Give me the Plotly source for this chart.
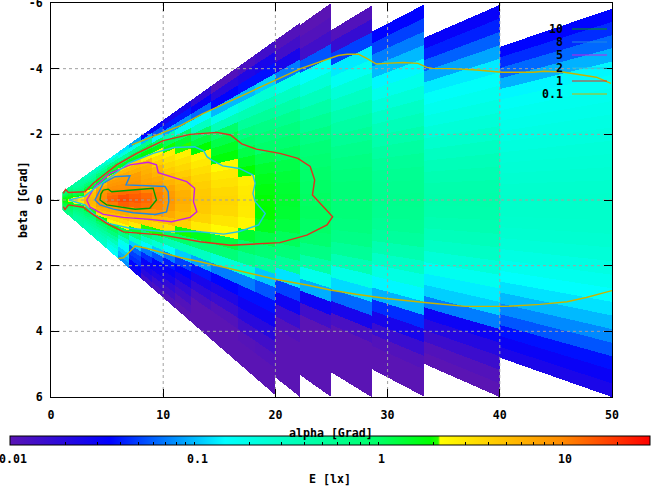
import numpy as np
import plotly.graph_objects as go

# Column edges of the measured field (alpha, Grad) and edge-ray slopes beta/alpha of each column
alpha_edges = [1, 1.5, 2, 3, 4, 5, 6, 7, 8, 9, 10, 11.1, 12.5, 14.3, 16.7, 18.2, 20, 22.2, 25, 28.6, 33.3, 40, 50]
ray_top = [.243]*17 + [.24, .207, .179, .1485, .1165]
ray_bottom = [.297]*16 + [.27, .24, .21, .18, .15, .12]

# log10(E) per ray band in each column, from the top edge to the bottom edge
c00 = [-.2,-.18,-.15,-.12,-.08,-.04,0,.04,.08,.12,.16,.2,.24,.28,.3, .28,.24,.2,.16,.12,.08,.04,0,-.04,-.08,-.12,-.15,-.18,-.2]
c01 = [-.25,-.22,-.2,-.15,-.1,-.05,.02,.05,.1,.15,.2,.25,.3,.4,.42, .4,.3,.22,.16,.1,.04,.01,-.03,-.06,-.1,-.14,-.18,-.22,-.25]
c02 = [-.35,-.32,-.3,-.28,-.25,-.2,-.15,-.08,-.02,.05,.12,.22,.34,.45,.5, .45,.34,.12,.02,-.05,-.1,-.15,-.2,-.24,-.28,-.3,-.32,-.34,-.36]
c03 = [-.5,-.45,-.35,-.3,-.22,-.1,-.02,.1,.22,.35,.62,.7,.72,.74,.75, .74,.72,.68,.32,.15,-.02,-.1,-.18,-.25,-.3,-.35,-.4,-.42,-.45]
c04 = [-.6,-.45,-.3,-.12,0,.12,.22,.3,.72,.82,.9,.93,.96,.98,.98, .95,.88,.8,.72,.5,.25,.1,-.05,-.2,-.3,-.38,-.45,-.5,-.55]
c05 = [-.75,-.5,-.2,.05,.15,.28,.68,.82,.9,.93,.97,1.0,1.08,1.12,1.14, 1.05,.92,.82,.72,.58,.38,.22,.02,-.12,-.3,-.45,-.6,-.72,-.8]
c06 = [-.9,-.65,-.3,0,.2,.55,.72,.82,.9,.92,.96,.98,1.1,1.2,1.22, 1.15,.95,.83,.7,.55,.35,.1,-.15,-.5,-.75,-.85,-.95,-1.02,-1.1]
c07 = [-1.05,-.7,-.2,.03,.2,.6,.72,.78,.88,.9,.93,.97,1.1,1.15,1.17, 1.12,.98,.78,.62,.45,.15,-.15,-.55,-.95,-1.2,-1.3,-1.35,-1.45,-1.55]
c08 = [-1.45,-1.0,-.2,.1,.27,.42,.7,.75,.78,.82,.85,.9,1.02,1.1,1.12, 1.08,.92,.78,.6,.32,-.1,-.5,-.85,-1.15,-1.35,-1.5,-1.6,-1.7,-1.85]
c09 = [-1.5,-1.25,-.85,0,.22,.36,.5,.6,.72,.76,.82,.87,1.0,1.03,1.03, 1.0,.92,.72,.55,.3,-.25,-.6,-.97,-1.25,-1.45,-1.55,-1.65,-1.8,-1.9]
c10 = [-1.6,-1.4,-1.05,-.4,.05,.3,.42,.5,.56,.62,.7,.77,.85,.9,.92, .9,.82,.7,.5,.02,-.4,-.8,-1.15,-1.4,-1.5,-1.6,-1.75,-1.85,-1.95]
c11 = [-1.6,-1.4,-1.1,-.75,-.03,.15,.32,.42,.5,.56,.62,.7,.74,.78,.8, .77,.72,.6,.3,-.02,-.45,-.95,-1.3,-1.45,-1.6,-1.75,-1.85,-1.95,-2]
c12 = [-1.75,-1.5,-1.2,-.85,-.5,-.02,.1,.28,.4,.46,.52,.57,.61,.64,.65, .64,.58,.45,.2,-.1,-.5,-1.05,-1.4,-1.6,-1.75,-1.9,-2,-2,-2]
c13 = [-1.95,-1.7,-1.45,-1.0,-.72,-.45,-.02,.08,.18,.26,.36,.46,.5,.55,.57, .55,.48,.36,.1,-.1,-.6,-1.15,-1.45,-1.65,-1.8,-1.95,-2,-2,-2]
c14 = [-1.9,-1.65,-1.42,-1.0,-.65,-.42,-.28,-.14,-.02,.08,.18,.28,.42,.45,.46, .45,.38,.15,-.03,-.22,-.6,-1.15,-1.42,-1.55,-1.7,-1.85,-1.97,-2,-2]
c15 = [-1.85,-1.6,-1.42,-.95,-.6,-.42,-.28,-.17,-.08,-.03,.08,.15,.2,.24,.27, .28,.2,.08,-.08,-.28,-.97,-1.25,-1.42,-1.55,-1.7,-1.85,-1.95,-2,-2]
c16 = [-1.95,-1.85,-1.6,-1.15,-.7,-.5,-.35,-.22,-.13,-.05,.02,.08,.12,.14,.15, .14,.1,.03,-.1,-.28,-.9,-1.3,-1.55,-1.8,-1.95,-2,-2,-2,-2]
c17 = [-2,-1.95,-1.85,-1.25,-.8,-.62,-.47,-.35,-.25,-.16,-.09,-.06,-.02,0,.01, .02,0,-.05,-.17,-.35,-.72,-1.03,-1.55,-1.85,-2,-2,-2,-2,-2]
c18 = [-1.95,-1.78,-1.3,-.88,-.76,-.62,-.5,-.4,-.33,-.26,-.2,-.15,-.12,-.1,-.1, -.1,-.13,-.18,-.27,-.42,-.7,-.92,-1.2,-1.6,-1.9,-2,-2,-2,-2]
c19 = [-1.45,-1.3,-1.15,-1.0,-.85,-.72,-.62,-.52,-.45,-.38,-.32,-.27,-.24,-.22,-.21, -.22,-.25,-.3,-.4,-.52,-.68,-.85,-1.02,-1.35,-1.6,-1.8,-1.95,-2,-2]
c20 = [-1.5,-1.38,-1.22,-1.05,-.88,-.8,-.74,-.68,-.62,-.56,-.5,-.45,-.41,-.38,-.37, -.38,-.41,-.46,-.52,-.62,-.75,-.87,-.95,-1.15,-1.53,-1.68,-1.82,-1.95,-2]
c21 = [-1.45,-1.35,-1.2,-1.02,-.85,-.78,-.74,-.71,-.68,-.65,-.62,-.6,-.58,-.56,-.55, -.55,-.56,-.58,-.62,-.68,-.74,-.82,-.9,-1.0,-1.12,-1.25,-1.42,-1.52,-1.62]
columns = [c00,c01,c02,c03,c04,c05,c06,c07,c08,c09,c10,c11,c12,c13,c14,c15,c16,c17,c18,c19,c20,c21]

# Iso-lux curves (alpha, beta)
e10_a = [4.66,5.1,5.4,7.64,9.1,9.4,8.8,7.5,6.45,4.96,4.37,4.45,4.66]
e10_b = [-.3,-.33,-.25,-.33,-.36,0,.25,.28,.22,.15,0,-.18,-.3]
e8_a = [3.92,4.66,5.7,7.04,6.68,7.64,10.16,10.45,10.5,10.3,9.27,7.34,5.55,4.37,3.92]
e8_b = [0,-.51,-.71,-.74,-.46,-.44,-.41,-.25,.05,.36,.44,.39,.28,.15,0]
e5_a = [3.18,3.92,5.26,7.04,8.67,9.4,9.56,10.9,12.1,12.8,12.7,13.0,12.4,10.75,8.8,6.45,4.66,3.48,3.18]
e5_b = [0,-.41,-.81,-1.07,-1.15,-1.07,-.83,-.69,-.56,-.36,.05,.36,.53,.66,.59,.53,.44,.22,0]
e2_a = [1.6,3.03,3.92,5.55,6.9,9.1,10.9,12.8,13.6,13.9,14.3,15.3,16.8,18,18.2,18,18.2,19.1,18.5,16.8,15.4,13,9.86,7.04,5.1,3.77,3.03,1.6]
e2_b = [0,-.12,-.36,-.76,-1.12,-1.42,-1.6,-1.62,-1.5,-1.32,-1.22,-1.04,-.96,-.76,-.51,-.2,.05,.41,.76,.96,1.04,.96,.96,.86,.71,.41,.15,0]
e1_a = [1.1,1.3,1.55,3.03,3.77,5.85,7.64,10,12.4,14.8,16,17,18.3,20.4,22,23.1,23.5,23.3,24.4,25.1,24.6,22.8,20.4,16,13.3,10,6.45,4.96,3.6,2.88,1.55,1.25,1.1]
e1_b = [-.2,-.32,-.23,-.25,-.51,-1.07,-1.42,-1.81,-2,-2.06,-1.98,-1.71,-1.55,-1.42,-1.27,-1.02,-.61,-.15,.25,.51,.76,1.07,1.3,1.38,1.27,1.07,.97,.71,.41,.22,.15,.29,.2]
e01u_a = [7.2,9.5,11.5,13.5,16,18.3,20,22.3,24.3,25.6,26.4,27.4,28.1,29,29.8,31.4,32.7,33.5,34,35.7,37.9,39.7,40.2,43,43.9,45.6,47.1,48.6,49.9]
e01u_b = [-1.68,-2,-2.26,-2.62,-3.02,-3.4,-3.65,-4.01,-4.24,-4.4,-4.44,-4.44,-4.32,-4.14,-4.16,-4.19,-4.16,-4.04,-4.01,-4,-3.96,-3.89,-3.89,-3.89,-3.92,-3.9,-3.82,-3.74,-3.55]
e01l_a = [6,6.45,7.04,7.5,8.5,11.5,13.3,16.8,20.1,22.8,24.9,27.2,29.9,33.3,36.9,39.6,40.5,43.6,46,47.7,50]
e01l_b = [1.78,1.76,1.57,1.4,1.47,1.75,1.88,2.15,2.42,2.59,2.74,2.87,3,3.12,3.24,3.24,3.24,3.18,3.1,2.97,2.76]

# Axes
x_ticks = [0, 10, 20, 30, 40, 50]
y_ticks = [-6, -4, -2, 0, 2, 4, 6]
y_tick_text = ["-6", "-4", "-2", "0", "2", "4", "6"]
e_ticks = [.01,.02,.03,.04,.05,.06,.07,.08,.09,.1,.2,.3,.4,.5,.6,.7,.8,.9,1,2,3,4,5,6,7,8,9,10,20]
e_labels = [.01, .1, 1, 10]
e_label_text = ["0.01", "0.1", "1", "10"]

# Contour legend
legend_labels = ["10", "8", "5", "2", "1", "0.1"]
legend_colors = ["#00a000", "#1e88e5", "#c81ee6", "#20c4e8", "#e0301e", "#c8b400"]

# Colour scale on log10(E)
colorscale = [
    [0.0, "#5a14b4"], [0.156, "#0000ff"], [0.336, "#00ffff"], [0.46, "#00ffb0"], [0.575, "#00ff66"],
    [0.656, "#00ff00"], [0.669, "#28ff00"], [0.672, "#ffff00"], [0.86, "#ff8c00"], [1.0, "#ff0000"],
]

FONT = "DejaVu Sans Mono"
FS = 11.6
TXT = dict(family=FONT, size=FS, color="black", weight="bold")
W, H = 651, 486
L, R, T, B = 51, 612, 3, 397

# Raster of the plot area, one cell per screen pixel; each cell shows the value of its column and ray band
dx = 50 / (R - L)
dy = 12 / (B - T)
xs = np.arange(1 + dx / 2, 50, dx)
ys = np.arange(-6 + dy / 2, 6, dy)
edges = np.array(alpha_edges)
idx = np.clip(np.searchsorted(edges, xs, side="right") - 1, 0, len(columns) - 1)
table = np.array(columns)
assert table.shape == (22, 29)
A, Y = np.meshgrid(xs, ys)
I = np.meshgrid(idx, ys)[0]
slope = np.where(Y < 0, np.array(ray_top)[I], np.array(ray_bottom)[I])
u = Y / (A * slope)
K = np.floor((u + 1) / 2 * 29).astype(int)
inside = np.abs(u) < 1
Z = np.full(A.shape, np.nan, dtype=np.float32)
Z[inside] = table[I[inside], K[inside]]

fig = go.Figure()
fig.add_trace(go.Heatmap(
    z=Z, x0=xs[0], dx=dx, y0=ys[0], dy=dy, zmin=-2, zmax=np.log10(30), colorscale=colorscale,
    hoverinfo="skip",
    colorbar=dict(
        orientation="h", lenmode="pixels", len=640, thicknessmode="pixels", thickness=9,
        x=(10 - L) / (R - L), xanchor="left", xpad=0, y=(B - 436) / (B - T), yanchor="top", ypad=0,
        outlinewidth=1, outlinecolor="black", borderwidth=0,
        tickmode="array", tickvals=list(np.log10(e_ticks)), ticktext=[""] * len(e_ticks),
        ticks="inside", ticklen=3, tickcolor="black", tickwidth=1,
        tickfont=dict(family=FONT, size=FS, color="black"),
    ),
))

# Dotted grid over the raster
gx, gy = [], []
for t in x_ticks[1:-1]:
    gx += [t, t, None]; gy += [-6, 6, None]
for t in y_ticks[1:-1]:
    gx += [0, 50, None]; gy += [t, t, None]
fig.add_trace(go.Scatter(x=gx, y=gy, mode="lines", hoverinfo="skip", showlegend=False,
                         line=dict(color="#a0a0a0", width=1, dash="3px,3px")))

curves = [(e10_a, e10_b, 0), (e8_a, e8_b, 1), (e5_a, e5_b, 2), (e2_a, e2_b, 3), (e1_a, e1_b, 4),
          (e01u_a, e01u_b, 5), (e01l_a, e01l_b, 5)]
for a, b, i in curves:
    fig.add_trace(go.Scatter(x=a, y=b, mode="lines", hoverinfo="skip", showlegend=False,
                             line=dict(color=legend_colors[i], width=1.4)))

def px(x): return (x - L) / (R - L)
def py(y): return (B - y) / (B - T)

anns, shapes = [], []
for i, (lab, col) in enumerate(zip(legend_labels, legend_colors)):
    yy = 29 + 13 * i
    anns.append(dict(text=lab, xref="paper", yref="paper", x=px(564.5), y=py(yy), xanchor="right", yanchor="middle",
                     showarrow=False, font=TXT))
    shapes.append(dict(type="line", xref="paper", yref="paper", x0=px(572), x1=px(607), y0=py(yy), y1=py(yy),
                       line=dict(color=col, width=1), layer="above"))
for v, lab in zip(e_labels, e_label_text):
    anns.append(dict(text=lab, xref="paper", yref="paper", x=px(13 + 184 * (np.log10(v) + 2)), y=py(459),
                     xanchor="center", yanchor="middle", showarrow=False, font=TXT))
anns.append(dict(text="alpha [Grad]", xref="paper", yref="paper", x=px(330.5), y=py(433), xanchor="center", yanchor="middle",
                 showarrow=False, font=TXT))
anns.append(dict(text="E [lx]", xref="paper", yref="paper", x=px(329.5), y=py(478.5), xanchor="center", yanchor="middle",
                 showarrow=False, font=TXT))
anns.append(dict(text="beta [Grad]", xref="paper", yref="paper", x=px(23), y=py(200), xanchor="center", yanchor="middle",
                 textangle=-90, showarrow=False, font=TXT))

axis_common = dict(showline=True, linecolor="black", linewidth=1, mirror="ticks", ticks="inside", ticklen=8,
                   tickcolor="black", tickwidth=1, showgrid=False, zeroline=False, ticklabeloverflow="allow",
                   tickfont=TXT)
fig.update_layout(
    width=W, height=H, autosize=False, paper_bgcolor="white", plot_bgcolor="white",
    margin=dict(l=L, r=W - R, t=T, b=H - B, pad=0, autoexpand=False),
    xaxis=dict(range=[0, 50], tickmode="array", tickvals=x_ticks, ticklabelstandoff=7, **axis_common),
    yaxis=dict(range=[6, -6], tickmode="array", tickvals=y_ticks, ticktext=y_tick_text, ticklabelstandoff=5, **axis_common),
    annotations=anns, shapes=shapes, showlegend=False,
)
fig.write_html("out.html", config={"displayModeBar": False},
               post_script="document.body.style.margin='0';document.body.style.overflow='hidden';")
